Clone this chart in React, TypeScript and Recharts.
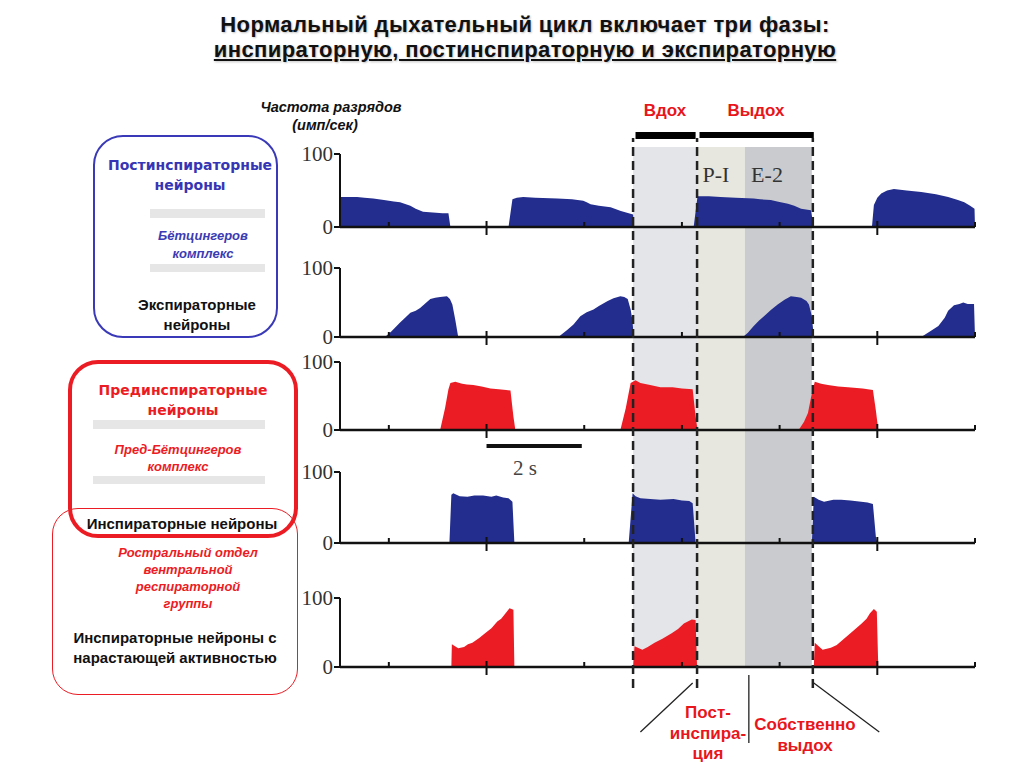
import React from 'react';
import { Area, AreaChart, ComposedChart, Line, ReferenceArea, ReferenceLine, XAxis, YAxis } from 'recharts';

// time in seconds, firing rate in imp/s
const TIME_TICKS = [1, 3, 5, 7, 9, 11, 13];
const MAJOR_TICKS = [3, 11];
const RATE_TICKS = [0, 100];

const POST_I = [
  [0, 41], [0.2, 41], [0.35, 41], [0.5, 40], [0.68, 39], [0.9, 37], [1.1, 35], [1.23, 34], [1.35, 31],
  [1.44, 29], [1.55, 25], [1.7, 21], [1.9, 20], [2.1, 19], [2.22, 19], [2.26, 0],
  [3.45, 0], [3.53, 38], [3.62, 40], [3.75, 41], [4.0, 40], [4.45, 39], [4.75, 38], [4.98, 36], [5.05, 34],
  [5.13, 31], [5.3, 29], [5.54, 27], [5.75, 22], [6.0, 17], [6.02, 0],
  [7.24, 0], [7.32, 42], [7.55, 42], [7.79, 41], [8.1, 40], [8.47, 39], [8.6, 38], [8.82, 37], [8.95, 35],
  [9.17, 32], [9.3, 29], [9.44, 25], [9.64, 23], [9.7, 0],
  [10.89, 0], [10.93, 30], [11.0, 40], [11.08, 46], [11.2, 50], [11.34, 52], [11.6, 50], [11.9, 48],
  [12.2, 45], [12.45, 41], [12.65, 37], [12.78, 34], [12.9, 29], [12.99, 25], [13.0, 0],
];

const EXP_E2 = [
  [0.92, 0], [1.05, 8], [1.23, 21], [1.35, 29], [1.44, 35], [1.55, 38], [1.64, 42], [1.75, 49], [1.85, 55],
  [1.95, 57], [2.05, 58], [2.19, 59], [2.25, 55], [2.3, 47], [2.36, 25], [2.42, 0],
  [4.47, 0], [4.65, 10], [4.78, 18], [4.92, 30], [5.05, 36], [5.19, 40], [5.3, 45], [5.48, 52], [5.6, 56],
  [5.74, 59], [5.82, 58], [5.89, 55], [5.95, 40], [5.99, 23], [6.01, 0],
  [8.25, 0], [8.35, 6], [8.47, 16], [8.58, 24], [8.68, 30], [8.82, 39], [8.96, 47], [9.1, 54], [9.23, 59],
  [9.35, 58], [9.44, 57], [9.55, 52], [9.6, 47], [9.66, 30], [9.7, 0],
  [11.9, 0], [12.1, 9], [12.25, 16], [12.38, 28], [12.45, 38], [12.57, 46], [12.68, 48], [12.76, 50],
  [12.85, 48], [12.98, 48], [13.0, 0],
];

const PRE_I = [
  [2.05, 0], [2.15, 32], [2.22, 60], [2.26, 69], [2.36, 71], [2.5, 68], [2.6, 67], [2.73, 66], [2.9, 64],
  [3.08, 61], [3.25, 60], [3.4, 59], [3.49, 58], [3.55, 20], [3.59, 0],
  [5.74, 0], [5.85, 32], [5.92, 58], [5.95, 69], [6.05, 73], [6.15, 69], [6.35, 66], [6.56, 63], [6.81, 63],
  [7.0, 61], [7.22, 60], [7.28, 20], [7.32, 0],
  [9.39, 0], [9.5, 12], [9.58, 25], [9.66, 54], [9.72, 71], [9.85, 68], [9.99, 66], [10.2, 64], [10.4, 63],
  [10.7, 61], [10.91, 59], [10.97, 29], [11.02, 0],
];

const INSP = [
  [2.24, 0], [2.28, 68], [2.32, 70], [2.45, 66], [2.61, 65], [2.75, 67], [2.93, 67], [3.1, 65], [3.2, 67],
  [3.34, 64], [3.45, 63], [3.53, 58], [3.57, 0],
  [5.91, 0], [5.99, 70], [6.05, 66], [6.15, 63], [6.35, 62], [6.56, 61], [6.83, 62], [7.0, 60], [7.15, 59],
  [7.22, 56], [7.28, 0],
  [9.66, 0], [9.7, 65], [9.8, 61], [9.91, 58], [10.1, 61], [10.26, 61], [10.45, 60], [10.67, 58], [10.8, 57],
  [10.91, 55], [10.97, 9], [11.0, 0],
];

const RAMP_I = [
  [2.28, 0], [2.29, 33], [2.42, 27], [2.54, 29], [2.62, 33], [2.71, 35], [2.85, 42], [2.97, 49], [3.1, 56],
  [3.22, 66], [3.3, 70], [3.39, 78], [3.47, 85], [3.55, 83], [3.57, 0],
  [6.0, 0], [6.03, 30], [6.19, 25], [6.3, 29], [6.44, 35], [6.6, 41], [6.79, 49], [6.92, 55], [7.04, 63],
  [7.2, 69], [7.28, 68], [7.31, 0],
  [9.7, 0], [9.72, 35], [9.88, 25], [10.05, 28], [10.17, 32], [10.3, 40], [10.42, 47], [10.55, 55],
  [10.68, 63], [10.78, 70], [10.85, 78], [10.93, 84], [10.99, 80], [11.02, 0],
];

// phase boundaries (s)
const INSP_PHASE = [6.0, 7.31];
const POSTI_PHASE = [7.31, 8.29];
const E2_PHASE = [8.29, 9.66];
const DASHED_AT = [6.0, 7.31, 9.68];

const BLUE = '#222d8d';
const RED = '#ec1c24';
const SANS = '"Liberation Sans", Arial, sans-serif';
const SERIF = '"Liberation Serif", "Times New Roman", serif';
const ROUND = '"DejaVu Sans", Verdana, sans-serif';

const PANELS = [
  { id: 'postI', points: POST_I, color: BLUE, top: 154, bottom: 227 },
  { id: 'e2', points: EXP_E2, color: BLUE, top: 268, bottom: 337 },
  { id: 'preI', points: PRE_I, color: RED, top: 362, bottom: 430 },
  { id: 'insp', points: INSP, color: BLUE, top: 472, bottom: 543 },
  { id: 'rampI', points: RAMP_I, color: RED, top: 598, bottom: 667 },
];

const toRows = (pts: number[][]) => pts.map(([t, v]) => ({ t, v }));

const TimeTick = (props: any) => {
  const { x, y, payload } = props;
  const major = MAJOR_TICKS.includes(payload.value);
  return (
    <line x1={x} x2={x} y1={y - (major ? 6 : 5)} y2={y + (major ? 8 : 0)} stroke="#111" strokeWidth={2} />
  );
};

const Trace = ({ points, color, top, bottom }: any) => {
  const m = { top: 14, right: 49, bottom: 10, left: 0 };
  const axisH = 2;
  return (
    <div style={{ position: 'absolute', left: 0, top: top - m.top }}>
      <AreaChart width={1024} height={bottom - top + m.top + m.bottom + axisH} data={toRows(points)} margin={m}>
        <XAxis
          dataKey="t"
          type="number"
          domain={[0, 13]}
          ticks={TIME_TICKS}
          interval={0}
          tick={<TimeTick />}
          tickLine={false}
          tickSize={0}
          tickMargin={0}
          height={axisH}
          axisLine={{ stroke: '#111', strokeWidth: 2.5 }}
          allowDataOverflow
        />
        <YAxis
          type="number"
          domain={[0, 100]}
          ticks={RATE_TICKS}
          interval={0}
          width={340}
          tickSize={6}
          tickMargin={1}
          tick={{ fontFamily: SERIF, fontSize: 21, fill: '#333' }}
          tickLine={{ stroke: '#111', strokeWidth: 2 }}
          axisLine={{ stroke: '#111', strokeWidth: 2 }}
        />
        <Area
          type="linear"
          dataKey="v"
          stroke="none"
          fill={color}
          fillOpacity={1}
          dot={false}
          activeDot={false}
          isAnimationActive={false}
        />
      </AreaChart>
    </div>
  );
};

// frame charts share the traces' time scale; y is in tens of pixels above y=748
const FRAME_MARGIN = { top: 128, right: 49, bottom: 20, left: 340 };
const FRAME_ROWS = [{ t: 0, v: 0 }, { t: 13, v: 62 }];

const Backdrop = () => (
  <div style={{ position: 'absolute', left: 0, top: 0 }}>
    <ComposedChart width={1024} height={768} margin={FRAME_MARGIN} data={FRAME_ROWS}>
      <XAxis dataKey="t" type="number" domain={[0, 13]} hide />
      <YAxis type="number" domain={[0, 62]} hide />
      <Line dataKey="v" stroke="none" dot={false} activeDot={false} isAnimationActive={false} />
      <ReferenceArea x1={INSP_PHASE[0]} x2={INSP_PHASE[1]} y1={8.1} y2={60.1} fill="#e3e5e9" fillOpacity={1} stroke="none" />
      <ReferenceArea x1={POSTI_PHASE[0]} x2={POSTI_PHASE[1]} y1={8.1} y2={60.1} fill="#e7e7df" fillOpacity={1} stroke="none" />
      <ReferenceArea x1={E2_PHASE[0]} x2={E2_PHASE[1]} y1={8.1} y2={60.1} fill="#c9cbce" fillOpacity={1} stroke="none" />
    </ComposedChart>
  </div>
);

const Overlay = () => (
  <div style={{ position: 'absolute', left: 0, top: 0, pointerEvents: 'none' }}>
    <ComposedChart width={1024} height={768} margin={FRAME_MARGIN} data={FRAME_ROWS}>
      <XAxis dataKey="t" type="number" domain={[0, 13]} hide />
      <YAxis type="number" domain={[0, 62]} hide />
      <Line dataKey="v" stroke="none" dot={false} activeDot={false} isAnimationActive={false} />
      {DASHED_AT.map((t) => (
        <ReferenceLine
          key={t}
          segment={[{ x: t, y: 6 }, { x: t, y: 61 }]}
          stroke="#222"
          strokeWidth={2.5}
          strokeDasharray="9 5"
        />
      ))}
      <ReferenceArea x1={6.05} x2={7.28} y1={60.9} y2={61.6} fill="#000" fillOpacity={1} stroke="none" />
      <ReferenceArea x1={7.36} x2={9.7} y1={61.0} y2={61.6} fill="#000" fillOpacity={1} stroke="none" />
      <ReferenceLine segment={[{ x: 3, y: 30.2 }, { x: 4.95, y: 30.2 }]} stroke="#111" strokeWidth={4} />
      <ReferenceLine segment={[{ x: 7.22, y: 6.5 }, { x: 6.15, y: 1.6 }]} stroke="#222" strokeWidth={1.3} />
      <ReferenceLine segment={[{ x: 8.37, y: 7.3 }, { x: 8.37, y: 0.5 }]} stroke="#222" strokeWidth={1.3} />
      <ReferenceLine segment={[{ x: 9.7, y: 6.5 }, { x: 11.04, y: 1.6 }]} stroke="#222" strokeWidth={1.3} />
    </ComposedChart>
  </div>
);

const Txt = ({ x, y, children, style }: any) => (
  <div
    style={{
      position: 'absolute',
      left: x,
      top: y,
      transform: 'translate(-50%, -50%)',
      whiteSpace: 'nowrap',
      lineHeight: 1,
      ...style,
    }}
  >
    {children}
  </div>
);

const Box = ({ x, y, w, h, color, width, radius }: any) => (
  <div
    style={{
      position: 'absolute',
      left: x,
      top: y,
      width: w,
      height: h,
      border: `${width}px solid ${color}`,
      borderRadius: radius,
      boxSizing: 'border-box',
    }}
  />
);

const Bar = ({ x, y, w, h }: any) => (
  <div style={{ position: 'absolute', left: x, top: y, width: w, height: h, background: '#e6e6e6' }} />
);

const title = {
  fontFamily: SANS,
  fontWeight: 700,
  fontSize: 22,
  letterSpacing: 0.4,
  color: '#111',
  textShadow: '1px 1px 2px rgba(0,0,0,0.25)',
};
const phase = { fontFamily: SANS, fontWeight: 700, fontSize: 17, color: '#e8161c' };
const blueHead = { fontFamily: ROUND, fontWeight: 700, fontSize: 14, color: '#3636b4' };
const redHead = { ...blueHead, color: '#ec1c24' };
const blueIt = { fontFamily: SANS, fontWeight: 700, fontStyle: 'italic', fontSize: 13, color: '#3b3bb3' };
const redIt = { ...blueIt, color: '#ec1c24' };
const black = { fontFamily: SANS, fontWeight: 700, fontSize: 15, color: '#111' };
const unit = { fontFamily: SANS, fontStyle: 'italic', fontWeight: 700, fontSize: 14.5, color: '#111' };

export default function App() {
  return (
    <div style={{ position: 'absolute', left: 0, top: 0, width: 1024, height: 768, background: '#fff', overflow: 'hidden' }}>
      <Backdrop />
      {PANELS.map((p) => (
        <Trace key={p.id} points={p.points} color={p.color} top={p.top} bottom={p.bottom} />
      ))}
      <Overlay />

      <Txt x={525} y={25} style={title}>Нормальный дыхательный цикл включает три фазы:</Txt>
      <Txt x={525} y={50} style={{ ...title, textDecoration: 'underline' }}>
        инспираторную, постинспираторную и экспираторную
      </Txt>

      <Txt x={331} y={107} style={unit}>Частота разрядов</Txt>
      <Txt x={325} y={125} style={unit}>(имп/сек)</Txt>

      <Txt x={665} y={110} style={phase}>Вдох</Txt>
      <Txt x={756} y={110} style={phase}>Выдох</Txt>
      <Txt x={716} y={175} style={{ fontFamily: SERIF, fontSize: 22, color: '#333' }}>P-I</Txt>
      <Txt x={767} y={175} style={{ fontFamily: SERIF, fontSize: 22, color: '#333' }}>E-2</Txt>
      <Txt x={525} y={468} style={{ fontFamily: SERIF, fontSize: 21, color: '#444' }}>2 s</Txt>

      <Txt x={708} y={712} style={phase}>Пост-</Txt>
      <Txt x={708} y={733} style={phase}>инспира-</Txt>
      <Txt x={708} y={753} style={phase}>ция</Txt>
      <Txt x={805} y={724} style={phase}>Собственно</Txt>
      <Txt x={805} y={745} style={phase}>выдох</Txt>

      <Box x={93} y={135} w={185} h={203} color="#3a3ab8" width={2} radius={30} />
      <Txt x={190} y={165} style={blueHead}>Постинспираторные</Txt>
      <Txt x={190} y={185} style={blueHead}>нейроны</Txt>
      <Bar x={150} y={209} w={115} h={9} />
      <Txt x={203} y={235} style={blueIt}>Бётцингеров</Txt>
      <Txt x={203} y={253} style={blueIt}>комплекс</Txt>
      <Bar x={150} y={264} w={115} h={8} />
      <Txt x={197} y={304} style={black}>Экспираторные</Txt>
      <Txt x={197} y={324} style={black}>нейроны</Txt>

      <Box x={52} y={508} w={246} h={187} color="#ec1c24" width={1.5} radius={26} />
      <Bar x={93} y={420} w={172} h={9} />
      <Bar x={93} y={476} w={172} h={8} />
      <Box x={68} y={360} w={230} h={178} color="#ec1c24" width={4} radius={30} />
      <Txt x={183} y={390} style={redHead}>Прединспираторные</Txt>
      <Txt x={183} y={410} style={redHead}>нейроны</Txt>
      <Txt x={178} y={449} style={redIt}>Пред-Бётцингеров</Txt>
      <Txt x={178} y={466} style={redIt}>комплекс</Txt>
      <Txt x={182} y={523} style={black}>Инспираторные нейроны</Txt>

      <Txt x={188} y={552} style={redIt}>Ростральный  отдел</Txt>
      <Txt x={188} y={569} style={redIt}>вентральной</Txt>
      <Txt x={188} y={586} style={redIt}>респираторной</Txt>
      <Txt x={188} y={603} style={redIt}>группы</Txt>
      <Txt x={175} y={637} style={black}>Инспираторные нейроны с</Txt>
      <Txt x={175} y={657} style={black}>нарастающей активностью</Txt>
    </div>
  );
}
